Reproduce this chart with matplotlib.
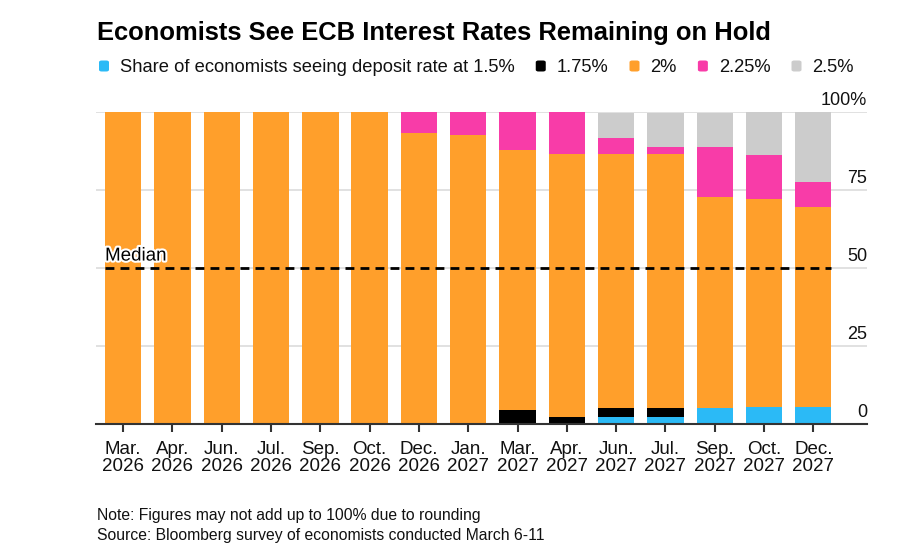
import matplotlib
matplotlib.use("Agg")
import matplotlib.pyplot as plt
from matplotlib.patches import FancyBboxPatch
import matplotlib.patheffects as pe
import numpy as np

months = ["Mar.\n2026", "Apr.\n2026", "Jun.\n2026", "Jul.\n2026", "Sep.\n2026",
          "Oct.\n2026", "Dec.\n2026", "Jan.\n2027", "Mar.\n2027", "Apr.\n2027",
          "Jun.\n2027", "Jul.\n2027", "Sep.\n2027", "Oct.\n2027", "Dec.\n2027"]
rate_150 = [0, 0, 0, 0, 0, 0, 0, 0, 0, 0, 2.4, 2.4, 5.1, 5.4, 5.4]
rate_175 = [0, 0, 0, 0, 0, 0, 0, 0, 4.6, 2.3, 2.7, 2.7, 0, 0, 0]
rate_200 = [100, 100, 100, 100, 100, 100, 93.3, 92.6, 83.2, 84.2, 81.4, 81.4, 67.8, 66.9, 64.1]
rate_225 = [0, 0, 0, 0, 0, 0, 6.7, 7.4, 12.2, 13.5, 5.4, 2.4, 16.0, 13.9, 8.2]
rate_250 = [0, 0, 0, 0, 0, 0, 0, 0, 0, 0, 8.0, 11.0, 11.0, 13.9, 22.5]
median_value = 50
series_labels = ["Share of economists seeing deposit rate at 1.5%", "1.75%", "2%", "2.25%", "2.5%"]
y_ticks = [0, 25, 50, 75, 100]
y_tick_labels = ["0", "25", "50", "75", "100%"]
title = "Economists See ECB Interest Rates Remaining on Hold"
note = "Note: Figures may not add up to 100% due to rounding"
source = "Source: Bloomberg survey of economists conducted March 6-11"

colors = ["#2BBAF6", "#000000", "#FF9F2B", "#F83CA8", "#CCCCCC"]

font = "Liberation Sans"

W, H = 900, 554
fig = plt.figure(figsize=(W / 100, H / 100), dpi=100)
fig.patch.set_facecolor("white")
renderer = fig.canvas.get_renderer()


def px(x, y):
    return x / W, 1 - y / H


ax_left, ax_right, ax_top, ax_bot = 96, 867, 112.3, 424.3
ax = fig.add_axes([ax_left / W, 1 - ax_bot / H, (ax_right - ax_left) / W, (ax_bot - ax_top) / H])
x = np.arange(len(months))
ax.set_xlim(-0.552, 15.09)
ax.set_ylim(0, 100)

for t in y_ticks[1:]:
    ax.axhline(t, color="#dcdcdc", lw=1.2, zorder=0)

bw = 0.737
series = [rate_150, rate_175, rate_200, rate_225, rate_250]
bottom = np.zeros(len(months))
for vals, c in zip(series, colors):
    vals = np.array(vals, dtype=float)
    ax.bar(x, vals, width=bw, bottom=bottom, color=c, edgecolor="none", zorder=2)
    bottom += vals

ax.hlines(median_value, x[0] - bw / 2, x[-1] + bw / 2, colors="black", lw=2,
          linestyles=(0, (3.2, 2.2)), zorder=4)
ax.text(x[0] - bw / 2, median_value + 1.2, "Median", fontsize=13.5, family=font,
        ha="left", va="bottom", zorder=5,
        path_effects=[pe.withStroke(linewidth=3, foreground="white")])

for t, lab in zip(y_ticks, y_tick_labels):
    ax.text(1.0, t + 1.1, lab, transform=ax.get_yaxis_transform(), ha="right", va="bottom",
            fontsize=13, family=font, color="#111111")

for s in ["top", "right", "left"]:
    ax.spines[s].set_visible(False)
ax.spines["bottom"].set_color("#333333")
ax.spines["bottom"].set_linewidth(1.5)
ax.set_yticks([])
ax.set_xticks(x)
ax.set_xticklabels(months, fontsize=13.5, family=font, linespacing=0.97, color="#111111")
ax.tick_params(axis="x", length=6, width=1.5, color="#333333", pad=6)

# Title
fig.text(*px(97, 40), title, fontsize=18.4, fontweight="bold", family=font,
         ha="left", va="baseline", color="black")

# Legend laid out sequentially
cur = 99
leg_fs = 13.2
for i, (lab, c) in enumerate(zip(series_labels, colors)):
    bx, by = px(cur, 71.5)
    fig.patches.append(FancyBboxPatch((bx, by), 10 / W, 11 / H,
                                      boxstyle="round,pad=0,rounding_size=0.003",
                                      transform=fig.transFigure, facecolor=c, edgecolor="none"))
    t = fig.text(*px(cur + 21, 66), lab, fontsize=leg_fs, family=font, ha="left",
                 va="center_baseline", color="#111111")
    wpx = t.get_window_extent(renderer).width
    cur = cur + 21 + wpx + 21

fig.text(*px(97, 520), note, fontsize=11.35, family=font, ha="left", va="baseline", color="#111111")
fig.text(*px(97, 540), source, fontsize=11.35, family=font, ha="left", va="baseline", color="#111111")

fig.savefig("out.png", dpi=100, facecolor="white")
